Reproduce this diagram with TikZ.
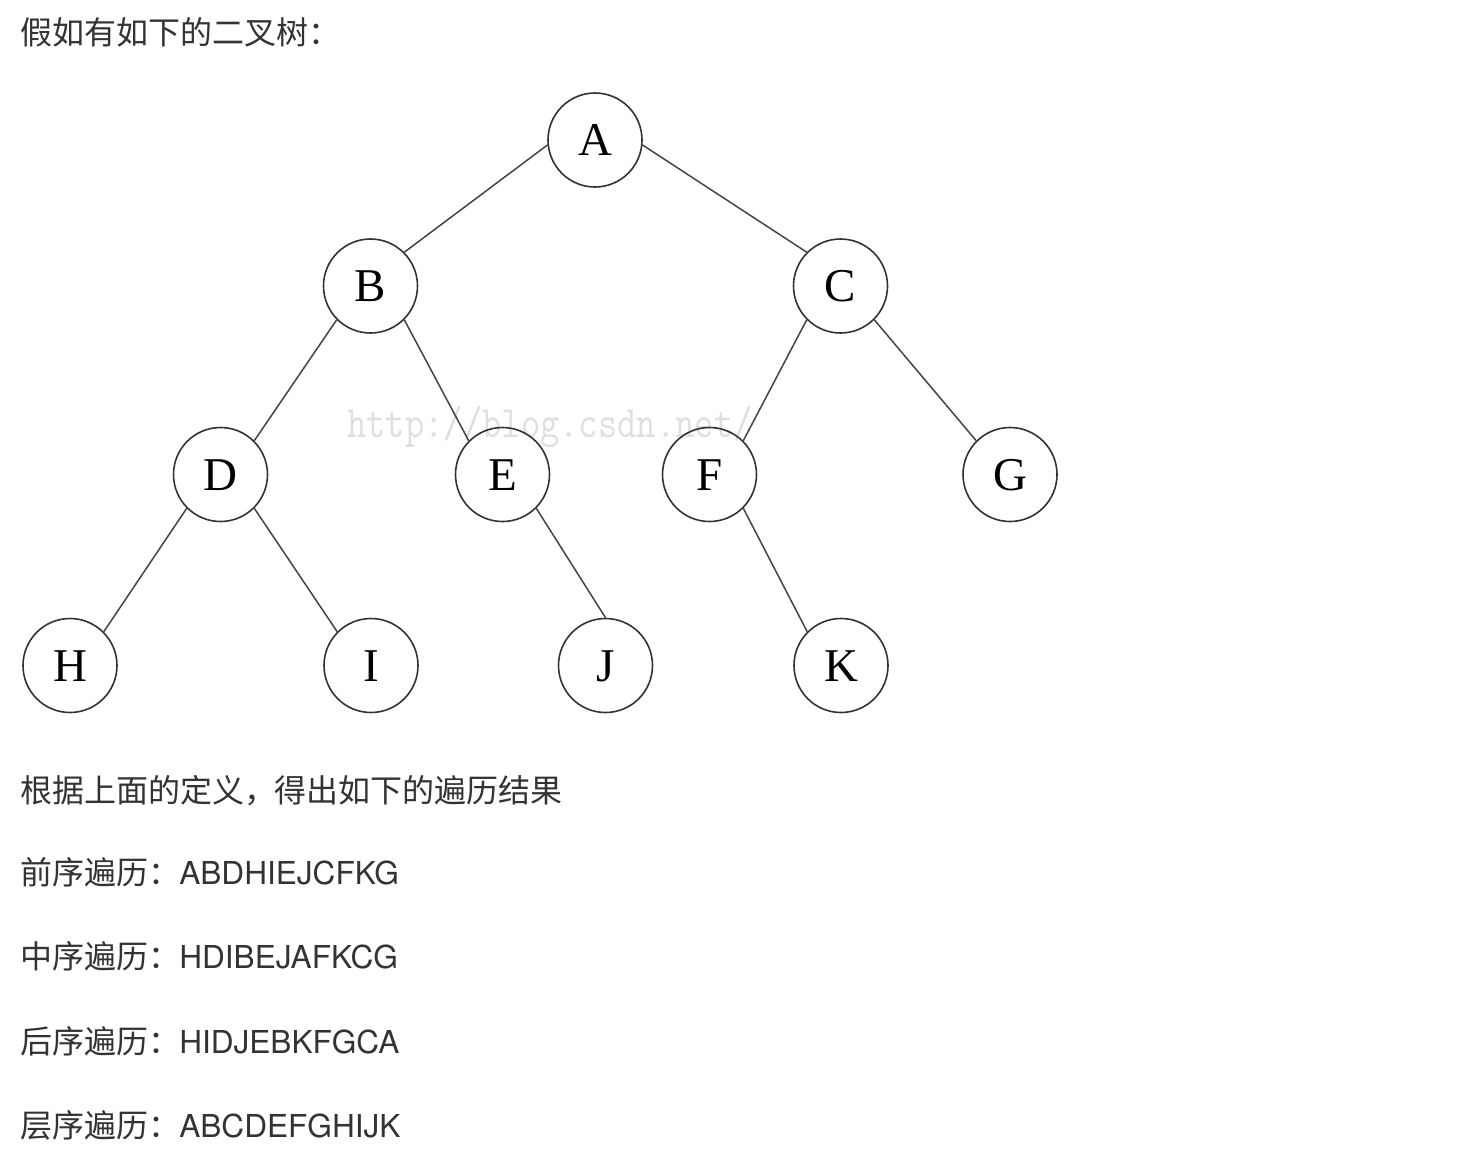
\documentclass[tikz,border=0pt]{standalone}
\usepackage{fontspec}
\setmainfont{TeX Gyre Heros}
\newfontfamily\cjk[Kerning=Off]{Noto Sans CJK SC}
\newfontfamily\treefont{Liberation Serif}
\definecolor{txt}{HTML}{333333}
\definecolor{circ}{HTML}{333333}
\definecolor{edgec}{HTML}{444444}
\definecolor{wm}{HTML}{E0E0DA}
\newcommand{\cjkbody}{\cjk\fontsize{32}{32}\selectfont}
\newcommand{\fwpunct}[1]{\makebox[30.1pt][l]{#1}}
\begin{document}
\begin{tikzpicture}[x=1pt,y=-1pt,
  tnode/.style={circle,draw=circ,line width=1.6pt,minimum size=94pt,inner sep=0pt,
    font=\treefont\fontsize{47}{47}\selectfont,text height=31pt,text depth=0pt},
  edgeline/.style={draw=edgec,line width=1.5pt},
  para/.style={anchor=base west,inner sep=0pt,text=txt,font=\fontsize{31.6}{31.6}\selectfont},
  wmark/.style={anchor=base west,inner sep=0pt,text=wm,font=\ttfamily\fontsize{37.5}{37.5}\selectfont}]
\useasboundingbox[fill=white] (0,0) rectangle (1482,1168);

% watermark
\node[wmark] (wmk) at (347,437) {\scalebox{1}[1.2]{http://blog.csdn.net/}};

% title
\node[para] (title) at (20,44) {{\cjkbody 假如有如下的二叉树：}};

% tree nodes
\node[tnode] (A) at (595,140) {A};
\node[tnode] (B) at (370.5,286) {B};
\node[tnode] (C) at (840.5,286) {C};
\node[tnode] (D) at (220.5,474.5) {D};
\node[tnode] (E) at (502.5,474.5) {E};
\node[tnode] (F) at (709.5,474.5) {F};
\node[tnode] (G) at (1010,474.5) {G};
\node[tnode] (H) at (70,665.5) {H};
\node[tnode] (I) at (371,665.5) {I};
\node[tnode] (J) at (605.5,665.5) {J};
\node[tnode] (K) at (841,665.5) {K};

% edges
\draw[edgeline] (A.186) -- (B.north east);
\draw[edgeline] (A.354) -- (C.north west);
\draw[edgeline] (B.south west) -- (D.north east);
\draw[edgeline] (B.south east) -- (E.north west);
\draw[edgeline] (C.south west) -- (F.north east);
\draw[edgeline] (C.south east) -- (G.north west);
\draw[edgeline] (D.south west) -- (H.north east);
\draw[edgeline] (D.south east) -- (I.north west);
\draw[edgeline] (E.south east) -- (J.north);
\draw[edgeline] (F.south east) -- (K.north west);

% text lines
\node[para] (def) at (20,802) {{\cjkbody 根据上面的定义\fwpunct{，}得出如下的遍历结果}};
\node[para] (pre) at (20,884) {{\cjkbody 前序遍历\fwpunct{：}}\hspace{1pt}ABDHIEJCFKG};
\node[para] (in) at (20,968) {{\cjkbody 中序遍历\fwpunct{：}}\hspace{1pt}HDIBEJAFKCG};
\node[para] (post) at (20,1053) {{\cjkbody 后序遍历\fwpunct{：}}\hspace{1pt}HIDJEBKFGCA};
\node[para] (lvl) at (20,1137) {{\cjkbody 层序遍历\fwpunct{：}}\hspace{1pt}ABCDEFGHIJK};
\end{tikzpicture}
\end{document}
